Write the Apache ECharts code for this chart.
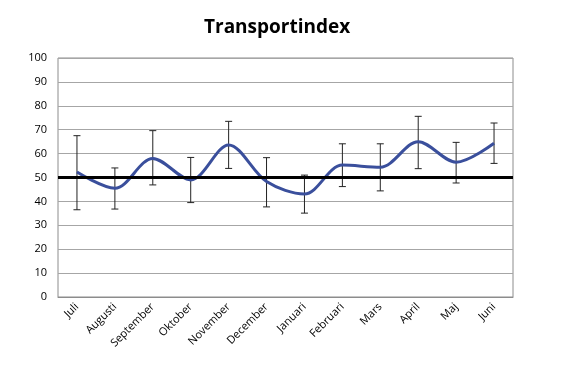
<!DOCTYPE html>
<html>
<head>
<meta charset="utf-8">
<script src="https://cdn.jsdelivr.net/npm/echarts@6/dist/echarts.min.js"></script>
<style>
  html, body { margin: 0; padding: 0; background: #fff; }
  #chart { width: 561px; height: 375px; }
</style>
</head>
<body>
<div id="chart"></div>
<script>
// månader
const months = ['Juli', 'Augusti', 'September', 'Oktober', 'November', 'December',
  'Januari', 'Februari', 'Mars', 'April', 'Maj', 'Juni']
// indexvärden
const indexValues = [52.3, 45.5, 58, 49, 63.6, 48.3, 43.1, 55.2, 54.3, 65, 56.4, 64.3]
// felstaplar, övre och undre
const errHigh = [67.5, 54, 69.6, 58.4, 73.5, 58.3, 51, 64.1, 64.1, 75.6, 64.7, 72.8]
const errLow = [36.5, 36.8, 46.9, 39.5, 53.8, 37.7, 35.1, 46.2, 44.4, 53.7, 47.7, 55.9]
const baseline = 50

const chart = echarts.init(document.getElementById('chart'))

const option = {
  animation: false,
  title: {
    text: 'Transportindex',
    left: 199,
    top: 13,
    textStyle: { fontFamily: 'Open Sans', fontWeight: 'bold', fontSize: 19, color: '#000' },
  },
  grid: {
    left: 58,
    right: 48,
    top: 58,
    bottom: 78,
    show: true,
    borderColor: '#8c8c8c',
    borderWidth: 1,
  },
  xAxis: {
    type: 'category',
    data: months,
    boundaryGap: true,
    axisLine: { lineStyle: { color: '#8c8c8c' } },
    axisTick: { show: false },
    axisLabel: {
      rotate: 45,
      margin: 8,
      fontFamily: 'Open Sans',
      fontSize: 11,
      color: '#000',
    },
  },
  yAxis: {
    type: 'value',
    min: 0,
    max: 100,
    interval: 10,
    axisLine: { show: false },
    axisTick: { show: false },
    axisLabel: { fontFamily: 'Open Sans', fontSize: 11, color: '#000', margin: 11 },
    splitLine: { lineStyle: { color: '#a6a6a6', width: 1 } },
  },
  series: [
    {
      type: 'custom',
      name: 'fel',
      z: 3,
      data: months.map((m, i) => [i, errLow[i], errHigh[i]]),
      renderItem: (params, api) => {
        const lo = api.coord([api.value(0), api.value(1)])
        const hi = api.coord([api.value(0), api.value(2)])
        const w = 3.5
        const style = { stroke: '#222', lineWidth: 1 }
        return {
          type: 'group',
          children: [
            { type: 'line', shape: { x1: hi[0], y1: hi[1], x2: lo[0], y2: lo[1] }, style },
            { type: 'line', shape: { x1: hi[0] - w, y1: hi[1], x2: hi[0] + w, y2: hi[1] }, style },
            { type: 'line', shape: { x1: lo[0] - w, y1: lo[1], x2: lo[0] + w, y2: lo[1] }, style },
          ],
        }
      },
    },
    {
      type: 'line',
      name: 'Transportindex',
      z: 4,
      data: indexValues,
      smooth: 0.33,
      symbol: 'none',
      lineStyle: { color: '#3a4f9c', width: 3 },
      markLine: {
        silent: true,
        symbol: 'none',
        label: { show: false },
        lineStyle: { color: '#000', width: 3, type: 'solid' },
        data: [{ yAxis: baseline }],
      },
    },
  ],
}

chart.setOption(option)
</script>
</body>
</html>
